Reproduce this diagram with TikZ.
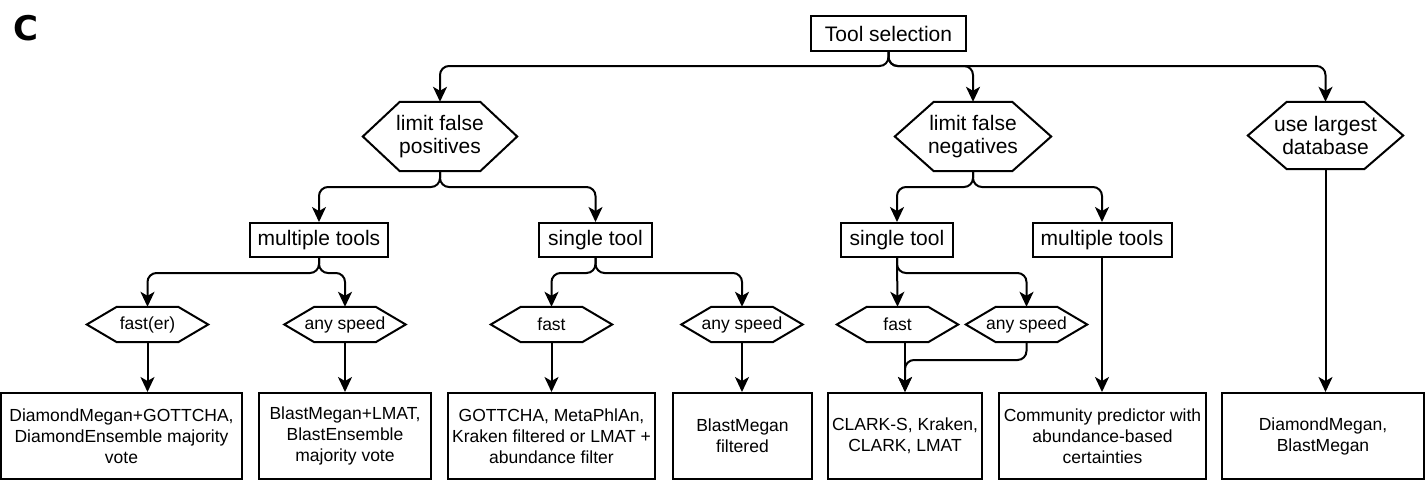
\documentclass[tikz,border=0pt]{standalone}
\usepackage{fontspec}
\setmainfont{Liberation Sans}
\newfontfamily\panelfont{DejaVu Sans}
\usetikzlibrary{arrows.meta}
\begin{document}
\begin{tikzpicture}[x=1pt,y=-1pt,
  lw/.style={line width=2pt},
  bigbox/.style={draw, lw, inner sep=0pt, align=center, font=\fontsize{21}{23}\selectfont},
  hexbig/.style={inner sep=0pt, align=center, font=\fontsize{21}{23}\selectfont},
  hexsmall/.style={inner sep=0pt, align=center, minimum width=121pt, minimum height=35pt, font=\fontsize{17.5}{21}\selectfont},
  leafbox/.style={draw, lw, inner sep=0pt, align=center, minimum height=86pt, font=\fontsize{17.5}{21}\selectfont},
  conn/.style={lw, rounded corners=9pt, -{Stealth[length=15pt,width=14pt,inset=4pt]}},
  straight/.style={lw, -{Stealth[length=15pt,width=14pt,inset=4pt]}}
]
\useasboundingbox (0,0) rectangle (1426,480);

\node[anchor=base west, font=\panelfont\bfseries\fontsize{34}{34}\selectfont] (lbl) at (10,40) {C};

% junction levels
\coordinate (j0) at (0,66);
\coordinate (j1) at (0,187);
\coordinate (j2) at (0,273);
\coordinate (j3) at (0,360);

% level 0
\node[bigbox, minimum width=155pt, minimum height=35pt] (ts) at (888.5,33.5) {Tool selection};

% level 1 (hexagons)
\node[hexbig, minimum width=154pt, minimum height=69pt] (lfp) at (440,136.5) {limit false\\positives};
\node[hexbig, minimum width=156pt, minimum height=69pt] (lfn) at (973,136.5) {limit false\\negatives};
\node[hexbig, minimum width=155pt, minimum height=67pt] (uld) at (1325.5,135.5) {use largest\\database};

% level 2
\node[bigbox, minimum width=138pt, minimum height=34pt] (ms1) at (319,240) {multiple tools};
\node[bigbox, minimum width=113pt, minimum height=34pt] (st1) at (595.5,240) {single tool};
\node[bigbox, minimum width=112pt, minimum height=34pt] (st2) at (897,240) {single tool};
\node[bigbox, minimum width=139pt, minimum height=34pt] (ms2) at (1102,240) {multiple tools};

% level 3 (small hexagons)
\node[hexsmall] (f1) at (147.5,324.5) {fast(er)};
\node[hexsmall] (a1) at (345,324.5) {any speed};
\node[hexsmall] (f2) at (551.5,324.5) {fast};
\node[hexsmall] (a2) at (742,324.5) {any speed};
\node[hexsmall] (f3) at (897.5,324.5) {fast};
\node[hexsmall] (a3) at (1026.5,324.5) {any speed};

% leaves
\node[leafbox, minimum width=241pt] (b1) at (121.5,436) {DiamondMegan+GOTTCHA,\\DiamondEnsemble majority\\vote};
\node[leafbox, minimum width=172pt] (b2) at (345,436) {BlastMegan+LMAT,\\BlastEnsemble\\majority vote};
\node[leafbox, minimum width=207pt] (b3) at (551.5,436) {GOTTCHA, MetaPhlAn,\\Kraken filtered or LMAT +\\abundance filter};
\node[leafbox, minimum width=139pt] (b4) at (742.5,436) {BlastMegan\\filtered};
\node[leafbox, minimum width=154pt] (b5) at (905,436) {CLARK-S, Kraken,\\CLARK, LMAT};
\node[leafbox, minimum width=207pt] (b6) at (1102.5,436) {Community predictor with\\abundance-based\\certainties};
\node[leafbox, minimum width=202pt] (b7) at (1323,436) {DiamondMegan,\\BlastMegan};

% hexagon outlines
\foreach \n/\i in {lfp/37,lfn/39,uld/39,f1/30,a1/30,f2/30,a2/30,f3/30,a3/30}{
  \draw[lw] (\n.west) -- ([xshift=\i pt]\n.north west) -- ([xshift=-\i pt]\n.north east)
    -- (\n.east) -- ([xshift=-\i pt]\n.south east) -- ([xshift=\i pt]\n.south west) -- cycle;
}

% connectors level 0 -> 1
\draw[conn] (ts.south) -- (ts.south |- j0) -- (lfp.north |- j0) -- (lfp.north);
\draw[conn] (ts.south) -- (ts.south |- j0) -- (lfn.north |- j0) -- (lfn.north);
\draw[conn] (ts.south) -- (ts.south |- j0) -- (uld.north |- j0) -- (uld.north);

% level 1 -> 2
\draw[conn] (lfp.south) -- (lfp.south |- j1) -- (ms1.north |- j1) -- (ms1.north);
\draw[conn] (lfp.south) -- (lfp.south |- j1) -- (st1.north |- j1) -- (st1.north);
\draw[conn] (lfn.south) -- (lfn.south |- j1) -- (st2.north |- j1) -- (st2.north);
\draw[conn] (lfn.south) -- (lfn.south |- j1) -- (ms2.north |- j1) -- (ms2.north);

% level 2 -> 3
\draw[conn] (ms1.south) -- (ms1.south |- j2) -- (f1.north |- j2) -- (f1.north);
\draw[conn] (ms1.south) -- (ms1.south |- j2) -- (a1.north |- j2) -- (a1.north);
\draw[conn] (st1.south) -- (st1.south |- j2) -- (f2.north |- j2) -- (f2.north);
\draw[conn] (st1.south) -- (st1.south |- j2) -- (a2.north |- j2) -- (a2.north);
\draw[straight] (st2.south) -- (f3.north);
\draw[conn] (st2.south) -- (st2.south |- j2) -- (a3.north |- j2) -- (a3.north);

% level 3 -> leaves
\draw[straight] (f1.south) -- (f1.south |- b1.north);
\draw[straight] (a1.south) -- (b2.north);
\draw[straight] (f2.south) -- (f2.south |- b3.north);
\draw[straight] (a2.south) -- (a2.south |- b4.north);
\draw[straight] (b5.north |- f3.south) -- (b5.north);
\draw[conn] (a3.south) -- (a3.south |- j3) -- (b5.north |- j3) -- (b5.north);
\draw[straight] (ms2.south) -- (ms2.south |- b6.north);
\draw[straight] (uld.south) -- (uld.south |- b7.north);
\end{tikzpicture}
\end{document}
